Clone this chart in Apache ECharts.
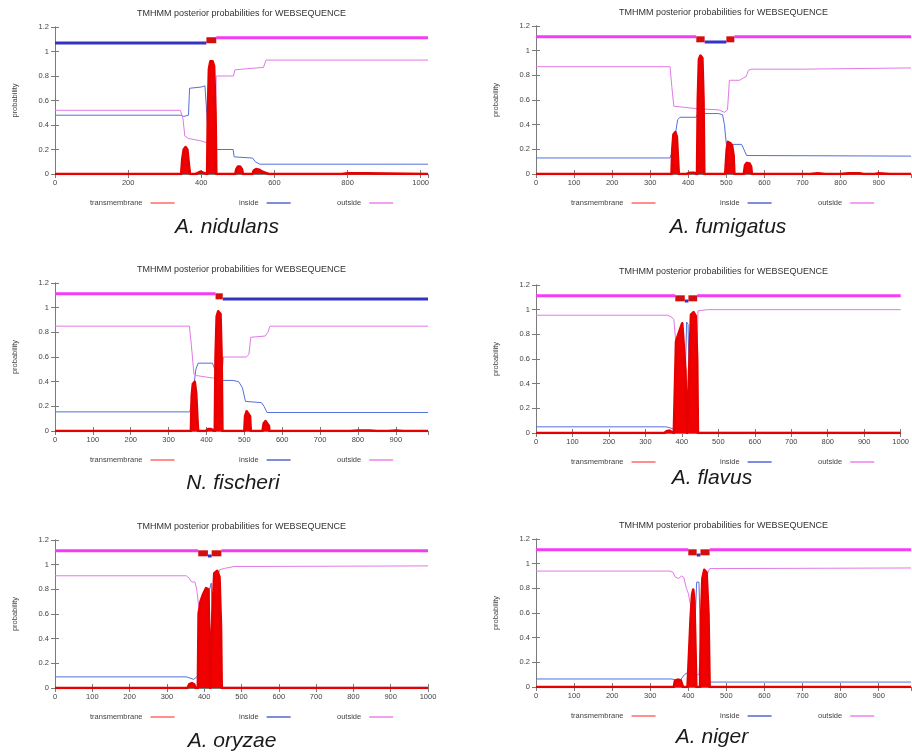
<!DOCTYPE html>
<html>
<head>
<meta charset="utf-8">
<script src="https://cdn.jsdelivr.net/npm/echarts@6/dist/echarts.min.js"></script>
<style>html,body{margin:0;padding:0;background:#fff;}#c{width:912px;height:755px;}</style>
</head>
<body>
<div id="c"></div>
<script>
// ---------- DATA ----------
const chartTitle = 'TMHMM posterior probabilities for WEBSEQUENCE';
const speciesNames = ['A. nidulans', 'A. fumigatus', 'N. fischeri', 'A. flavus', 'A. oryzae', 'A. niger'];
const seqLengths = [1020, 985, 985, 1000, 1000, 985];
const xTickSteps = [200, 100, 100, 100, 100, 100];
const yTicks = [0, 0.2, 0.4, 0.6, 0.8, 1, 1.2];
const legendNames = ['transmembrane', 'inside', 'outside'];

// [position, probability]
const nidulansTM = [[0,0],[345,0],[348,0.12],[352,0.2],[357,0.22],[362,0.2],[366,0.08],[369,0],[385,0],[388,0.015],[398,0.02],[405,0.01],[410,0],[416,0],[418,0.5],[421,0.86],[425,0.92],[431,0.92],[435,0.88],[439,0.5],[441,0],[493,0],[496,0.04],[500,0.06],[506,0.06],[511,0.04],[514,0],[540,0],[544,0.03],[550,0.04],[558,0.035],[566,0.02],[575,0.01],[585,0],[720,0],[725,0.005],[730,0],[785,0],[800,0.005],[850,0.005],[855,0],[1020,0]];
const nidulansInside = [[0,0.48],[345,0.48],[352,0.47],[365,0.48],[368,0.70],[400,0.71],[410,0.72],[415,0.5],[420,0.26],[437,0.22],[440,0.20],[487,0.2],[490,0.14],[540,0.13],[548,0.1],[560,0.08],[1020,0.08]];
const nidulansOutside = [[0,0.52],[343,0.52],[350,0.45],[355,0.31],[365,0.29],[400,0.27],[420,0.25],[437,0.25],[441,0.8],[488,0.8],[492,0.85],[527,0.86],[532,0.87],[570,0.87],[577,0.93],[1020,0.93]];
const nidulansTopology = [['inside',0,414],['tm',414,441],['outside',441,1020]];

const fumigatusTM = [[0,0],[356,0],[358,0.2],[361,0.32],[366,0.34],[370,0.3],[373,0.12],[375,0],[395,0],[405,0.01],[415,0.01],[420,0],[423,0],[425,0.6],[428,0.93],[432,0.96],[437,0.94],[440,0.6],[442,0],[485,0],[490,0.01],[497,0],[499,0],[501,0.2],[504,0.26],[510,0.25],[515,0.23],[519,0.15],[521,0],[546,0],[549,0.07],[554,0.09],[561,0.085],[565,0.06],[567,0],[720,0],[740,0.005],[760,0],[800,0],[820,0.005],[850,0.005],[860,0],[890,0],[900,0.005],[930,0],[985,0]];
const fumigatusInside = [[0,0.13],[352,0.13],[360,0.2],[372,0.44],[378,0.46],[420,0.46],[425,0.49],[480,0.49],[490,0.48],[495,0.4],[500,0.24],[540,0.24],[546,0.2],[553,0.15],[985,0.145]];
const fumigatusOutside = [[0,0.87],[352,0.87],[357,0.7],[362,0.55],[420,0.53],[480,0.52],[495,0.5],[503,0.52],[508,0.76],[535,0.76],[545,0.78],[552,0.79],[558,0.84],[565,0.85],[700,0.85],[985,0.86]];
const fumigatusTopology = [['outside',0,421],['tm',421,443],['inside',443,500],['tm',500,521],['outside',521,985]];

const fischeriTM = [[0,0],[359,0],[361,0.28],[364,0.38],[369,0.4],[373,0.3],[376,0.1],[378,0],[398,0],[405,0.015],[412,0.015],[416,0],[422,0],[424,0.6],[427,0.93],[431,0.97],[437,0.95],[440,0.6],[442,0],[500,0],[502,0.12],[506,0.16],[511,0.15],[515,0.12],[517,0],[548,0],[551,0.06],[556,0.08],[561,0.07],[565,0.04],[566,0],[780,0],[800,0.004],[830,0.004],[850,0],[880,0],[900,0.004],[920,0],[985,0]];
const fischeriInside = [[0,0.155],[356,0.155],[362,0.25],[372,0.5],[378,0.55],[416,0.55],[422,0.5],[428,0.41],[470,0.41],[485,0.4],[495,0.35],[503,0.24],[545,0.23],[552,0.2],[560,0.15],[985,0.15]];
const fischeriOutside = [[0,0.85],[355,0.85],[360,0.7],[367,0.46],[373,0.45],[415,0.43],[425,0.43],[440,0.44],[445,0.6],[505,0.6],[512,0.62],[517,0.76],[555,0.77],[562,0.8],[568,0.85],[985,0.85]];
const fischeriTopology = [['outside',0,424],['tm',424,443],['inside',443,985]];

const flavusTM = [[0,0],[352,0],[358,0.015],[366,0.02],[372,0.01],[378,0],[382,0],[384,0.74],[388,0.78],[395,0.84],[401,0.89],[406,0.88],[410,0.5],[412,0.1],[414,0],[419,0],[421,0.6],[425,0.96],[432,0.98],[438,0.95],[442,0.6],[444,0],[1000,0]];
const flavusInside = [[0,0.05],[355,0.05],[365,0.045],[378,0.03],[386,0.05],[400,0.08],[408,0.3],[413,0.9],[417,0.88],[421,0.3],[430,0.05],[445,0.005],[1000,0.005]];
const flavusOutside = [[0,0.955],[360,0.955],[372,0.94],[378,0.92],[383,0.75],[395,0.1],[408,0.05],[416,0.05],[420,0.3],[435,0.05],[440,0.3],[444,0.99],[470,1.0],[1000,1.0]];
const flavusTopology = [['outside',0,382],['tm',382,408],['inside',408,418],['tm',418,442],['outside',442,1000]];

const oryzaeTM = [[0,0],[355,0],[360,0.03],[367,0.04],[373,0.03],[377,0],[383,0],[385,0.6],[390,0.7],[397,0.76],[405,0.81],[411,0.8],[414,0.4],[416,0],[420,0],[422,0.6],[427,0.93],[435,0.95],[441,0.9],[445,0.5],[447,0],[1000,0]];
const oryzaeInside = [[0,0.09],[353,0.09],[362,0.08],[372,0.07],[380,0.09],[395,0.1],[408,0.2],[414,0.8],[419,0.85],[424,0.2],[435,0.05],[450,0.005],[1000,0.005]];
const oryzaeOutside = [[0,0.91],[352,0.91],[360,0.89],[366,0.86],[375,0.86],[380,0.8],[385,0.67],[395,0.6],[410,0.1],[418,0.1],[425,0.7],[435,0.9],[442,0.96],[455,0.97],[480,0.985],[1000,0.99]];
const oryzaeTopology = [['outside',0,384],['tm',384,410],['inside',410,420],['tm',420,446],['outside',446,1000]];

const nigerTM = [[0,0],[362,0],[365,0.05],[372,0.06],[380,0.055],[386,0],[398,0],[401,0.2],[406,0.55],[410,0.75],[413,0.79],[416,0.7],[419,0.3],[421,0],[431,0],[433,0.5],[437,0.88],[442,0.95],[448,0.93],[453,0.6],[456,0],[985,0]];
const nigerInside = [[0,0.065],[355,0.065],[365,0.06],[380,0.06],[390,0.1],[400,0.12],[415,0.3],[422,0.85],[428,0.85],[433,0.3],[445,0.06],[458,0.04],[985,0.04]];
const nigerOutside = [[0,0.94],[352,0.94],[360,0.93],[366,0.89],[375,0.88],[382,0.9],[388,0.89],[395,0.8],[400,0.76],[410,0.6],[420,0.1],[428,0.1],[436,0.5],[448,0.9],[456,0.96],[985,0.965]];
const nigerTopology = [['outside',0,400],['tm',400,422],['inside',422,432],['tm',432,456],['outside',456,985]];

const tmSets = [nidulansTM, fumigatusTM, fischeriTM, flavusTM, oryzaeTM, nigerTM];
const insideSets = [nidulansInside, fumigatusInside, fischeriInside, flavusInside, oryzaeInside, nigerInside];
const outsideSets = [nidulansOutside, fumigatusOutside, fischeriOutside, flavusOutside, oryzaeOutside, nigerOutside];
const topologySets = [nidulansTopology, fumigatusTopology, fischeriTopology, flavusTopology, oryzaeTopology, nigerTopology];
// level of each topology band on the probability axis
const topologyLevels = {inside: 1.07, outside: 1.112, tm: 1.092};

// ---------- LAYOUT / STYLE ----------
const boxes = [
  {left:55, top:27, width:373, height:147},
  {left:536, top:26, width:375, height:148},
  {left:55, top:283, width:373, height:148},
  {left:536, top:285, width:375, height:148},
  {left:55, top:540, width:373, height:148},
  {left:536, top:539, width:375, height:148}
];
const speciesPos = [[227,227],[728,227],[233,483],[712,478],[232,741],[712,737]];
const FONT = '"Liberation Sans", Arial, sans-serif';
const C = {
  tm: '#f00000', tmLine: '#e60000', tmBox: '#d40e0e',
  inside: '#5470dc', outside: '#e07ae6',
  topoIn: '#3434c4', topoOut: '#f53cf5',
  legTm: '#ff6a6a', legIn: '#5566d4', legOut: '#ee80ee',
  axis: '#7a7a7a', text: '#444'
};

const grid = [], xAxis = [], yAxis = [], series = [], legend = [], graphic = [];
boxes.forEach((b, i) => {
  grid.push({left: b.left, top: b.top, width: b.width, height: b.height, containLabel: false});
  const xMax = seqLengths[i], step = xTickSteps[i];
  const lbl = {fontSize: 7.5, color: C.text, fontFamily: FONT, margin: 5, showMaxLabel: xMax % step === 0, formatter: v => String(v)};
  const tick = {inside: true, length: 4, lineStyle: {color: C.axis}};
  const line = {show: true, lineStyle: {color: C.axis, width: 1}};
  xAxis.push({type:'value', gridIndex:i, min:0, max:xMax, interval:step, axisLine:line, axisTick:tick, axisLabel:lbl, splitLine:{show:false}});
  xAxis.push({type:'value', gridIndex:i, position:'top', min:0, max:xMax, interval:step, axisLine:line, axisTick:tick, axisLabel:{show:false}, splitLine:{show:false}});
  yAxis.push({type:'value', gridIndex:i, min:yTicks[0], max:yTicks[yTicks.length-1], interval:yTicks[1]-yTicks[0],
    axisLine:line, axisTick:tick, splitLine:{show:false},
    axisLabel:{fontSize:7.5, color:C.text, fontFamily:FONT, margin:6, formatter: v => String(+v.toFixed(1))},
    name:'probability', nameLocation:'middle', nameGap:36, nameTextStyle:{fontSize:7.5, color:C.text, fontFamily:FONT}});
  yAxis.push({type:'value', gridIndex:i, position:'right', min:yTicks[0], max:yTicks[yTicks.length-1], interval:yTicks[1]-yTicks[0],
    axisLine:line, axisTick:tick, axisLabel:{show:false}, splitLine:{show:false}});
  const xi = i*2, yi = i*2;
  series.push({type:'line', name:'inside', xAxisIndex:xi, yAxisIndex:yi, data:insideSets[i], symbol:'none', z:2,
    lineStyle:{color:C.inside, width:1}, itemStyle:{color:C.legIn}, silent:true, animation:false});
  series.push({type:'line', name:'outside', xAxisIndex:xi, yAxisIndex:yi, data:outsideSets[i], symbol:'none', z:2,
    lineStyle:{color:C.outside, width:1}, itemStyle:{color:C.legOut}, silent:true, animation:false});
  series.push({type:'line', name:'transmembrane', xAxisIndex:xi, yAxisIndex:yi, data:tmSets[i], symbol:'none', z:3,
    lineStyle:{color:C.tmLine, width:2.6, join:'round'}, areaStyle:{color:C.tm, opacity:1}, itemStyle:{color:C.legTm}, silent:true, animation:false});
  topologySets[i].forEach((seg, k) => {
    const [kind, s, e] = seg;
    const lvl = topologyLevels[kind];
    const col = kind === 'tm' ? C.tmBox : (kind === 'inside' ? C.topoIn : C.topoOut);
    const w = kind === 'tm' ? 6 : 3;
    series.push({type:'line', name:'topo'+i+'_'+k, xAxisIndex:xi, yAxisIndex:yi, data:[[s,lvl],[e,lvl]], symbol:'none',
      z: kind === 'tm' ? 5 : 4, lineStyle:{color:col, width:w, cap:'butt'}, silent:true, animation:false});
  });
  const legTop = b.top + b.height + 25;
  const legOffsets = [35, 184, 282];
  const legCols = [C.legTm, C.legIn, C.legOut];
  legendNames.forEach((nm, k) => {
    legend.push({left: b.left + legOffsets[k], top: legTop, align:'right', orient:'horizontal', selectedMode:false,
      icon:'rect', itemWidth:24, itemHeight:1.5, itemGap:0, padding:0,
      textStyle:{fontSize:7.5, color:C.text, fontFamily:FONT, padding:[0,3,0,0]},
      data:[{name:nm, itemStyle:{color:legCols[k]}}]});
  });
  graphic.push({type:'text', x: b.left + b.width/2, y: b.top - 13, style:{text: chartTitle, fill:'#333', font:'9px ' + FONT, align:'center', verticalAlign:'middle'}});
  graphic.push({type:'text', x: speciesPos[i][0], y: speciesPos[i][1], style:{text: speciesNames[i], fill:'#1a1a1a', font:'italic 21px ' + FONT, align:'center', verticalAlign:'middle'}});
});

const chart = echarts.init(document.getElementById('c'), null, {renderer:'canvas'});
chart.setOption({animation:false, backgroundColor:'#fff', grid, xAxis, yAxis, series, legend, graphic});
</script>
</body>
</html>
